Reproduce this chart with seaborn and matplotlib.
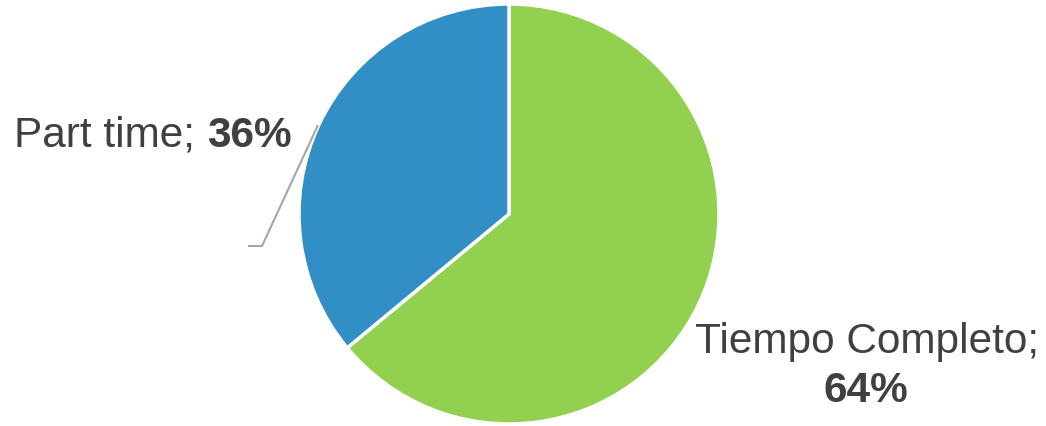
import matplotlib
matplotlib.use("Agg")
import matplotlib.pyplot as plt
import seaborn as sns

# Work schedule split
categories = ["Tiempo Completo", "Part time"]
shares = [64, 36]
slice_colors = ["#92D050", "#318FC5"]

sns.set_theme(style="white")
plt.rcParams["font.family"] = ["Liberation Sans", "DejaVu Sans"]

W, H = 1046, 426
fig = plt.figure(figsize=(W / 100, H / 100), dpi=100)
ax = fig.add_axes([0, 0, 1, 1])


def py(y):
    """Convert a top-down pixel row into the axis' bottom-up coordinate."""
    return H - y


ax.pie(
    shares,
    colors=slice_colors,
    startangle=90,
    counterclock=False,
    center=(509, py(214)),
    radius=210,
    wedgeprops=dict(edgecolor="white", linewidth=2.5),
    frame=True,
)
ax.set_xlim(0, W)
ax.set_ylim(0, H)
ax.set_aspect("equal")
ax.axis("off")

text_color = "#404040"
fs = 30.5

# Leader line for the smaller slice
ax.plot([318, 262, 248], [py(125), py(246), py(246)],
        color="#A6A6A6", linewidth=1.5, solid_capstyle="butt")

# "Part time; 36%" label: regular name followed by a bold value
t1 = ax.text(14, py(147), f"{categories[1]}; ", fontsize=fs,
             color=text_color, ha="left", va="baseline")
fig.canvas.draw()
bb = t1.get_window_extent(renderer=fig.canvas.get_renderer())
x_end = ax.transData.inverted().transform((bb.x1, bb.y0))[0]
ax.text(x_end, py(147), f"{shares[1]}%", fontsize=fs, fontweight="bold",
        color=text_color, ha="left", va="baseline")

# "Tiempo Completo; 64%" label on two lines
ax.text(867, py(353), f"{categories[0]};", fontsize=fs,
        color=text_color, ha="center", va="baseline")
ax.text(866, py(402), f"{shares[0]}%", fontsize=fs, fontweight="bold",
        color=text_color, ha="center", va="baseline")

fig.savefig("out.png", dpi=100, facecolor="white")
